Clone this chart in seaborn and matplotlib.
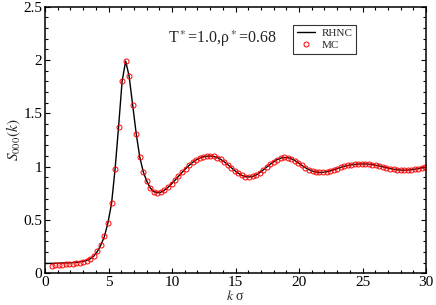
import pandas as pd
import seaborn as sns
import matplotlib.pyplot as plt
from matplotlib.ticker import MultipleLocator, FormatStrFormatter

# =========================
# DATA
# =========================
k_mc = [0.52, 0.80, 1.08, 1.35, 1.63, 1.91, 2.19, 2.46, 2.74, 3.02,
        3.30, 3.57, 3.85, 4.13, 4.40, 4.68, 4.96, 5.24, 5.52, 5.79,
        6.07, 6.35, 6.62, 6.90, 7.18, 7.46, 7.74, 8.01, 8.29, 8.57,
        8.85, 9.12, 9.40, 9.68, 9.96, 10.23, 10.51, 10.79, 11.07, 11.34,
        11.62, 11.90, 12.18, 12.45, 12.73, 13.01, 13.29, 13.56, 13.84, 14.12,
        14.40, 14.67, 14.95, 15.23, 15.51, 15.78, 16.06, 16.34, 16.62, 16.89,
        17.17, 17.45, 17.73, 18.00, 18.28, 18.56, 18.84, 19.11, 19.39, 19.67,
        19.95, 20.22, 20.50, 20.78, 21.06, 21.33, 21.61, 21.89, 22.17, 22.44,
        22.72, 23.00, 23.28, 23.55, 23.83, 24.11, 24.39, 24.66, 24.94, 25.22,
        25.50, 25.77, 26.05, 26.33, 26.61, 26.88, 27.16, 27.44, 27.72, 27.99,
        28.27, 28.55, 28.83, 29.10, 29.38, 29.66, 29.94]

s_mc = [0.072, 0.076, 0.079, 0.081, 0.084, 0.087, 0.090, 0.094, 0.100, 0.108,
        0.118, 0.133, 0.160, 0.205, 0.265, 0.345, 0.475, 0.655, 0.98, 1.37,
        1.80, 1.99, 1.85, 1.58, 1.31, 1.09, 0.95, 0.865, 0.80, 0.765,
        0.755, 0.76, 0.78, 0.805, 0.838, 0.872, 0.91, 0.946, 0.98, 1.012,
        1.04, 1.063, 1.08, 1.092, 1.098, 1.10, 1.096, 1.085, 1.068, 1.045,
        1.018, 0.99, 0.962, 0.937, 0.918, 0.906, 0.903, 0.908, 0.922, 0.943,
        0.968, 0.995, 1.022, 1.046, 1.066, 1.08, 1.086, 1.084, 1.074, 1.057,
        1.036, 1.012, 0.99, 0.972, 0.958, 0.95, 0.946, 0.947, 0.952, 0.96,
        0.97, 0.982, 0.993, 1.003, 1.011, 1.017, 1.021, 1.024, 1.025, 1.025,
        1.023, 1.019, 1.013, 1.006, 0.998, 0.99, 0.982, 0.976, 0.971, 0.968,
        0.967, 0.968, 0.971, 0.976, 0.982, 0.988, 0.993]

k_rhnc = [0.0] + k_mc

s_rhnc = [0.092, 0.093, 0.094, 0.095, 0.096, 0.097, 0.098, 0.100, 0.103, 0.107, 0.113,
          0.122, 0.136, 0.162, 0.206, 0.266, 0.346, 0.476, 0.655, 0.98, 1.37,
          1.80, 1.99, 1.85, 1.58, 1.31, 1.09, 0.95, 0.865, 0.80, 0.765,
          0.755, 0.76, 0.78, 0.805, 0.838, 0.872, 0.91, 0.946, 0.98, 1.012,
          1.04, 1.063, 1.08, 1.092, 1.098, 1.10, 1.096, 1.085, 1.068, 1.045,
          1.018, 0.99, 0.962, 0.937, 0.918, 0.906, 0.903, 0.908, 0.922, 0.943,
          0.968, 0.995, 1.022, 1.046, 1.066, 1.08, 1.086, 1.084, 1.074, 1.057,
          1.036, 1.012, 0.99, 0.972, 0.958, 0.95, 0.946, 0.947, 0.952, 0.96,
          0.97, 0.982, 0.993, 1.003, 1.011, 1.017, 1.021, 1.024, 1.025, 1.025,
          1.023, 1.019, 1.013, 1.006, 0.998, 0.99, 0.982, 0.976, 0.971, 0.968,
          0.967, 0.968, 0.971, 0.976, 0.982, 0.988, 0.993]

df_rhnc = pd.DataFrame({"k": k_rhnc, "S": s_rhnc})
df_mc = pd.DataFrame({"k": k_mc, "S": s_mc})

# =========================
# STYLE
# =========================
sns.set_style("ticks")
plt.rcParams['font.family'] = ['serif']
plt.rcParams['font.serif'] = ['Liberation Serif', 'DejaVu Serif']
plt.rcParams['mathtext.fontset'] = 'stix'

fig = plt.figure(figsize=(4.36, 3.05), dpi=100)
ax = fig.add_axes([0.1032, 0.104, 0.874, 0.874])

# =========================
# PLOT
# =========================
sns.lineplot(data=df_rhnc, x="k", y="S", color="black", linewidth=1.0,
             label="RHNC", ax=ax)
sns.lineplot(data=df_mc, x="k", y="S", linestyle="none", marker="o",
             markersize=3.6, markerfacecolor="none", markeredgecolor="red",
             markeredgewidth=0.7, color="red", label="MC", ax=ax)

ax.set_xlim(0, 30)
ax.set_ylim(0, 2.5)
ax.xaxis.set_major_locator(MultipleLocator(5))
ax.xaxis.set_minor_locator(MultipleLocator(1))
ax.yaxis.set_major_locator(MultipleLocator(0.5))
ax.yaxis.set_minor_locator(MultipleLocator(0.1))
ax.yaxis.set_major_formatter(FormatStrFormatter('%g'))

ax.tick_params(which='both', direction='in', top=True, right=True,
               labelsize=11, width=0.8, colors='black')
ax.tick_params(which='major', length=3.6, pad=2.0)
ax.tick_params(which='minor', length=2.0)
for sp in ax.spines.values():
    sp.set_linewidth(1.1)
    sp.set_color('black')

ax.set_xlabel(r'$k$ σ', fontsize=10, labelpad=0)
ax.set_ylabel(r'$S_{000}(k)$', fontsize=11, labelpad=0)

ax.text(0.323, 0.863, r'T$^*$=1.0,ρ$^*$=0.68', transform=ax.transAxes,
        fontsize=11.5, va='baseline', ha='left')

leg = ax.legend(loc='upper left', bbox_to_anchor=(0.652, 0.931),
                fontsize=8, frameon=True, fancybox=False, borderpad=0.3,
                handlelength=1.6, handletextpad=0.6, labelspacing=0.2,
                borderaxespad=0)
leg.get_frame().set_edgecolor('black')
leg.get_frame().set_linewidth(0.8)

plt.savefig("out.png", dpi=100)
